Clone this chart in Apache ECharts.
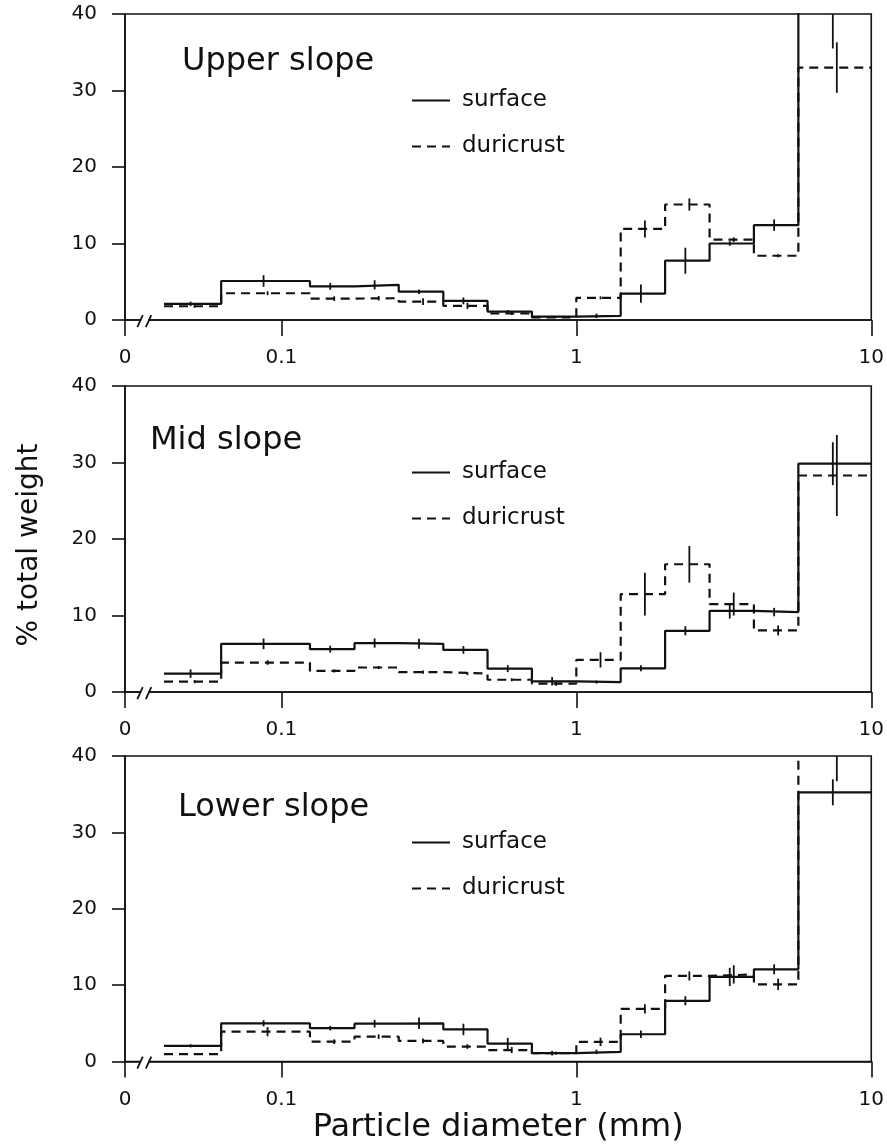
<!DOCTYPE html>
<html><head><meta charset="utf-8">
<script src="https://cdn.jsdelivr.net/npm/echarts@6/dist/echarts.min.js"></script>
<style>html,body{margin:0;padding:0;background:#fff}#c{width:887px;height:1147px}</style>
</head><body><div id="c"></div>
<script>
// ---- data ----
const binEdges = [0.04, 0.0625, 0.125, 0.177, 0.25, 0.354, 0.5, 0.707, 1, 1.414, 2, 2.83, 4, 5.66, 10];
const panelNames = ['Upper slope', 'Mid slope', 'Lower slope'];
const seriesNames = ['surface', 'duricrust'];
const yTicks = [0, 10, 20, 30, 40];
const xMin = 0.0295, xMax = 10;
const xBreakAt = 0.0343;

const upperSurface    = [2.1, 5.1, 4.4, 4.6, 3.7, 2.5, 1.1, 0.45, 0.55, 3.45, 7.75, 10.0, 12.4, 44];
const upperSurfaceErr = [0.3, 0.76, 0.45, 0.6, 0.3, 0.45, 0.2, 0.1, 0.3, 1.2, 1.7, 0.3, 0.75, 8.5];
const upperDuri       = [1.8, 3.5, 2.8, 2.85, 2.4, 1.85, 0.85, 0.35, 2.9, 11.9, 15.1, 10.5, 8.4, 33.0];
const upperDuriErr    = [0.2, 0.25, 0.3, 0.3, 0.45, 0.4, 0.2, 0.1, 0.2, 1.1, 0.8, 0.3, 0.2, 3.3];

const midSurface      = [2.4, 6.3, 5.6, 6.4, 6.3, 5.5, 3.05, 1.4, 1.3, 3.1, 8.0, 10.6, 10.45, 29.85];
const midSurfaceErr   = [0.55, 0.7, 0.45, 0.6, 0.65, 0.5, 0.45, 0.55, 0.2, 0.4, 0.6, 1.0, 0.55, 2.8];
const midDuri         = [1.35, 3.85, 2.75, 3.2, 2.6, 2.4, 1.6, 1.1, 4.2, 12.8, 16.7, 11.5, 8.05, 28.3];
const midDuriErr      = [0.2, 0.3, 0.2, 0.2, 0.2, 0.2, 0.2, 0.3, 1.0, 2.8, 2.4, 1.5, 0.65, 5.3];

const lowerSurface    = [2.05, 5.0, 4.36, 4.95, 5.0, 4.2, 2.35, 1.09, 1.26, 3.57, 7.95, 11.07, 12.07, 35.25];
const lowerSurfaceErr = [0.2, 0.4, 0.3, 0.5, 0.75, 0.75, 0.75, 0.3, 0.3, 0.5, 0.6, 1.2, 0.65, 1.7];
const lowerDuri       = [0.96, 3.9, 2.6, 3.25, 2.7, 1.96, 1.5, 1.09, 2.57, 6.9, 11.2, 11.4, 10.1, 44];
const lowerDuriErr    = [0.1, 0.6, 0.3, 0.3, 0.3, 0.3, 0.4, 0.2, 0.55, 0.6, 0.6, 1.2, 0.75, 7.3];

// ---- layout ----
const FONT = 'DejaVu Sans';
const INK = '#111';
const gridTops = [14, 386, 756];
const gridHeights = [306, 306, 305.5];
const titlePos = [[182, 46], [150, 425], [178, 792]];

const panels = [
  [upperSurface, upperSurfaceErr, upperDuri, upperDuriErr],
  [midSurface, midSurfaceErr, midDuri, midDuriErr],
  [lowerSurface, lowerSurfaceErr, lowerDuri, lowerDuriErr]
];

function stepData(vals) {
  return binEdges.map((e, i) => [e, vals[Math.min(i, vals.length - 1)]]);
}
function errData(vals, errs) {
  return vals.map((v, i) => [Math.sqrt(binEdges[i] * binEdges[i + 1]), v, errs[i]]);
}
function makeErrRender(shift) {
  return function (params, api) {
    const x = api.value(0), v = api.value(1), e = api.value(2);
    const cs = params.coordSys;
    const p1 = api.coord([x, v + e]);
    const p2 = api.coord([x, Math.max(v - e, 0.0001)]);
    const y1 = Math.max(p1[1], cs.y), y2 = Math.min(p2[1], cs.y + cs.height);
    if (y1 >= y2) return null;
    const px = p1[0] + shift;
    return {type: 'line', shape: {x1: px, y1: y1, x2: px, y2: y2},
            style: {stroke: INK, lineWidth: 1.8}};
  };
}
function breakRender(params, api) {
  const p = api.coord([api.value(0), api.value(1)]);
  const x = p[0], y = p[1];
  return {type: 'group', children: [
    {type: 'rect', shape: {x: x - 4, y: y - 3, width: 8, height: 6}, style: {fill: '#fff'}},
    {type: 'line', shape: {x1: x - 7, y1: y + 7, x2: x - 1.5, y2: y - 5}, style: {stroke: INK, lineWidth: 1.8}},
    {type: 'line', shape: {x1: x + 1.5, y1: y + 7, x2: x + 7, y2: y - 5}, style: {stroke: INK, lineWidth: 1.8}}
  ]};
}

const grid = [], xAxis = [], yAxis = [], series = [], legend = [], title = [];
panels.forEach((pd, i) => {
  grid.push({left: 125, width: 748, top: gridTops[i], height: gridHeights[i],
             show: true, borderColor: INK, borderWidth: 1.6, backgroundColor: 'transparent'});
  xAxis.push({
    type: 'log', logBase: 10, gridIndex: i, min: xMin, max: xMax,
    axisLine: {lineStyle: {color: INK, width: 1.6}},
    axisTick: {show: true, length: 16, lineStyle: {color: INK, width: 1.6}},
    minorTick: {show: false}, splitLine: {show: false},
    axisLabel: {color: INK, fontSize: 20, fontFamily: FONT, margin: 28,
      formatter: v => v < 0.05 ? '0' : String(Math.pow(10, Math.round(Math.log10(v))))},
    name: i === 2 ? 'Particle diameter (mm)' : '',
    nameLocation: 'middle', nameGap: 50,
    nameTextStyle: {fontSize: 32, fontFamily: FONT, color: INK}
  });
  yAxis.push({
    type: 'value', gridIndex: i, min: yTicks[0], max: yTicks[yTicks.length - 1], interval: 10,
    axisLine: {show: true, lineStyle: {color: INK, width: 1.6}},
    axisTick: {show: true, length: 13, lineStyle: {color: INK, width: 1.6}},
    splitLine: {show: false},
    axisLabel: {color: INK, fontSize: 20, fontFamily: FONT, margin: 28}
  });
  const [s, se, d, de] = pd;
  series.push({
    name: seriesNames[0], type: 'line', step: 'end', xAxisIndex: i, yAxisIndex: i,
    symbol: 'none', data: stepData(s), color: INK,
    lineStyle: {color: INK, width: 2.2, type: 'solid'}, z: 3
  });
  series.push({
    name: seriesNames[1], type: 'line', step: 'end', xAxisIndex: i, yAxisIndex: i,
    symbol: 'none', data: stepData(d), color: INK,
    lineStyle: {color: INK, width: 2.2, type: [9, 6]}, z: 3
  });
  series.push({type: 'custom', name: 'surface error', xAxisIndex: i, yAxisIndex: i,
    renderItem: makeErrRender(-2), data: errData(s, se), z: 4});
  series.push({type: 'custom', name: 'duricrust error', xAxisIndex: i, yAxisIndex: i,
    renderItem: makeErrRender(2), data: errData(d, de), z: 4});
  series.push({type: 'custom', name: 'axis break', xAxisIndex: i, yAxisIndex: i,
    renderItem: breakRender, data: [[xBreakAt, 0]], z: 5, silent: true});
  legend.push({
    data: seriesNames, orient: 'vertical', left: 406, top: gridTops[i] + 70,
    itemWidth: 38, itemHeight: 14, itemGap: 23, selectedMode: false,
    itemStyle: {opacity: 0},
    textStyle: {fontSize: 23, fontFamily: FONT, color: INK, padding: [0, 0, 0, 7]}
  });
  title.push({text: panelNames[i], left: titlePos[i][0], top: titlePos[i][1], padding: 0,
    textStyle: {fontSize: 32, fontWeight: 'normal', fontFamily: FONT, color: INK}});
});

const chart = echarts.init(document.getElementById('c'));
chart.setOption({
  animation: false,
  backgroundColor: '#fff',
  grid, xAxis, yAxis, series, legend, title,
  graphic: [{
    type: 'text', x: 30, y: 545, rotation: Math.PI / 2,
    style: {text: '% total weight', fontSize: 28, fontFamily: FONT, fill: INK,
            textAlign: 'center', textVerticalAlign: 'middle'}
  }]
});
</script></body></html>
